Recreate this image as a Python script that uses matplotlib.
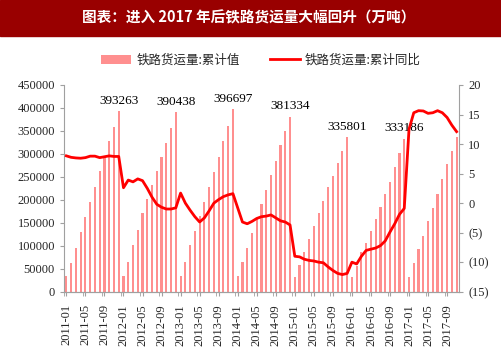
import matplotlib
matplotlib.use('Agg')
import matplotlib.pyplot as plt
from matplotlib.patches import Rectangle
from matplotlib.ticker import FuncFormatter, FixedLocator
import numpy as np
import pandas as pd

# month labels 2011-01 .. 2017-11
months = list(pd.period_range('2011-01', '2017-11', freq='M').strftime('%Y-%m'))

# 铁路货运量:累计值 (万吨)
cum_2011 = [34200, 62500, 95800, 129300, 162600, 195300, 228700, 262100, 294000, 328800, 359300, 393263]
cum_2012 = [34000, 65300, 101700, 134400, 170700, 201200, 231700, 263500, 292700, 324500, 357100, 390438]
cum_2013 = [34000, 65300, 101700, 132800, 164800, 195300, 227300, 260000, 293300, 328200, 361500, 396697]
cum_2014 = [34000, 65300, 95800, 127200, 159000, 190300, 221500, 254800, 285300, 318800, 350000, 381334]
cum_2015 = [32700, 58100, 87100, 114800, 143000, 172000, 198200, 227300, 252000, 279600, 307000, 335801]
cum_2016 = [31400, 56000, 85800, 105400, 132200, 157700, 185100, 212800, 239500, 270900, 301400, 333186]
cum_2017 = [32700, 61800, 92300, 122000, 154000, 183000, 212100, 244800, 277400, 307000, 337500]
cum_values = cum_2011 + cum_2012 + cum_2013 + cum_2014 + cum_2015 + cum_2016 + cum_2017

# 铁路货运量:累计同比 (%)
yoy_2011 = [8.0, 7.75, 7.65, 7.6, 7.7, 7.95, 7.95, 7.7, 7.85, 8.0, 7.9, 7.9]
yoy_2012 = [2.6, 3.9, 3.6, 4.1, 3.8, 2.5, 1.0, -0.2, -0.7, -1.0, -1.0, -0.8]
yoy_2013 = [1.7, 0.0, -1.2, -2.3, -3.2, -2.5, -1.3, 0.0, 0.6, 1.1, 1.4, 1.6]
yoy_2014 = [-0.8, -3.2, -3.5, -3.1, -2.6, -2.3, -2.2, -2.0, -2.5, -3.0, -3.2, -3.7]
yoy_2015 = [-9.0, -9.1, -9.5, -9.7, -9.8, -10.0, -10.1, -10.8, -11.4, -11.9, -12.1, -11.9]
yoy_2016 = [-10.0, -10.3, -9.0, -8.0, -7.8, -7.6, -7.2, -6.4, -4.9, -3.5, -1.9, -0.9]
yoy_2017 = [12.5, 15.3, 15.65, 15.6, 15.2, 15.3, 15.65, 15.3, 14.5, 13.2, 12.1]
yoy_values = yoy_2011 + yoy_2012 + yoy_2013 + yoy_2014 + yoy_2015 + yoy_2016 + yoy_2017

# year-end totals that get a label
label_months = ['2011-12', '2012-12', '2013-12', '2014-12', '2015-12', '2016-12']

title = '图表：进入 2017 年后铁路货运量大幅回升（万吨）'
bar_name = '铁路货运量:累计值'
line_name = '铁路货运量:累计同比'

serif = ['Liberation Serif', 'DejaVu Serif']
cjk = ['Noto Sans CJK SC', 'DejaVu Sans']
grey = '#A0A0A0'
txt = '#262626'

fig = plt.figure(figsize=(5.02, 3.58), dpi=100)

# red title banner
fig.patches.append(Rectangle((0, 0.8994), 1, 0.1006, transform=fig.transFigure,
                             color='#990000', zorder=0))
fig.text(0.495, 0.952, title, color='white', ha='center', va='center',
         fontsize=10.5, fontweight='bold', family=cjk)

ax = fig.add_axes([0.1275, 0.1852, 0.7868, 0.5774])
ax2 = ax.twinx()

x = np.arange(len(months))
bars = ax.bar(x, cum_values, width=0.45, color='#FF8F8F', label=bar_name, zorder=2)
line, = ax2.plot(x, yoy_values, color='#FF0000', lw=2.0, label=line_name,
                 solid_joinstyle='round')

for m in label_months:
    i = months.index(m)
    ax.annotate(f'{cum_values[i]:d}', (i, cum_values[i]), xytext=(0, 3),
                textcoords='offset points', ha='center', va='bottom',
                fontsize=9.5, family=serif, color='black', zorder=1)

ax.set_xlim(-0.5, len(months) - 0.5)
ax.set_ylim(0, 450000)
ax.set_yticks(np.arange(0, 450001, 50000))
ax2.set_ylim(-15, 20)
ax2.set_yticks(np.arange(-15, 21, 5))
ax2.yaxis.set_major_formatter(FuncFormatter(
    lambda v, p: f'({abs(int(round(v)))})' if v < 0 else f'{int(round(v))}'))

# labels at every 4th month, tick marks at category boundaries
lab_idx = x[::4]
ax.set_xticks(lab_idx)
ax.set_xticklabels([months[i] for i in lab_idx], rotation=90)
ax.xaxis.set_minor_locator(FixedLocator(lab_idx - 0.5))
ax.tick_params(axis='x', which='major', length=0, pad=6)
ax.tick_params(axis='x', which='minor', length=3, color=grey, direction='out')

for a in (ax, ax2):
    for s in a.spines.values():
        s.set_color(grey)
    a.spines['top'].set_visible(False)
    a.tick_params(axis='both', labelsize=9, labelcolor=txt, color=grey, length=3)
    for lbl in a.get_xticklabels() + a.get_yticklabels():
        lbl.set_family(serif)
ax2.spines['left'].set_visible(False)
ax.spines['right'].set_visible(False)

fig.legend(handles=[bars, line], labels=[bar_name, line_name], loc='center',
           bbox_to_anchor=(0.52, 0.832), ncol=2, frameon=False,
           prop={'family': cjk, 'size': 9}, handlelength=2.4, columnspacing=2.4,
           handletextpad=0.4, labelcolor=txt)

fig.savefig('out.png', dpi=100)
